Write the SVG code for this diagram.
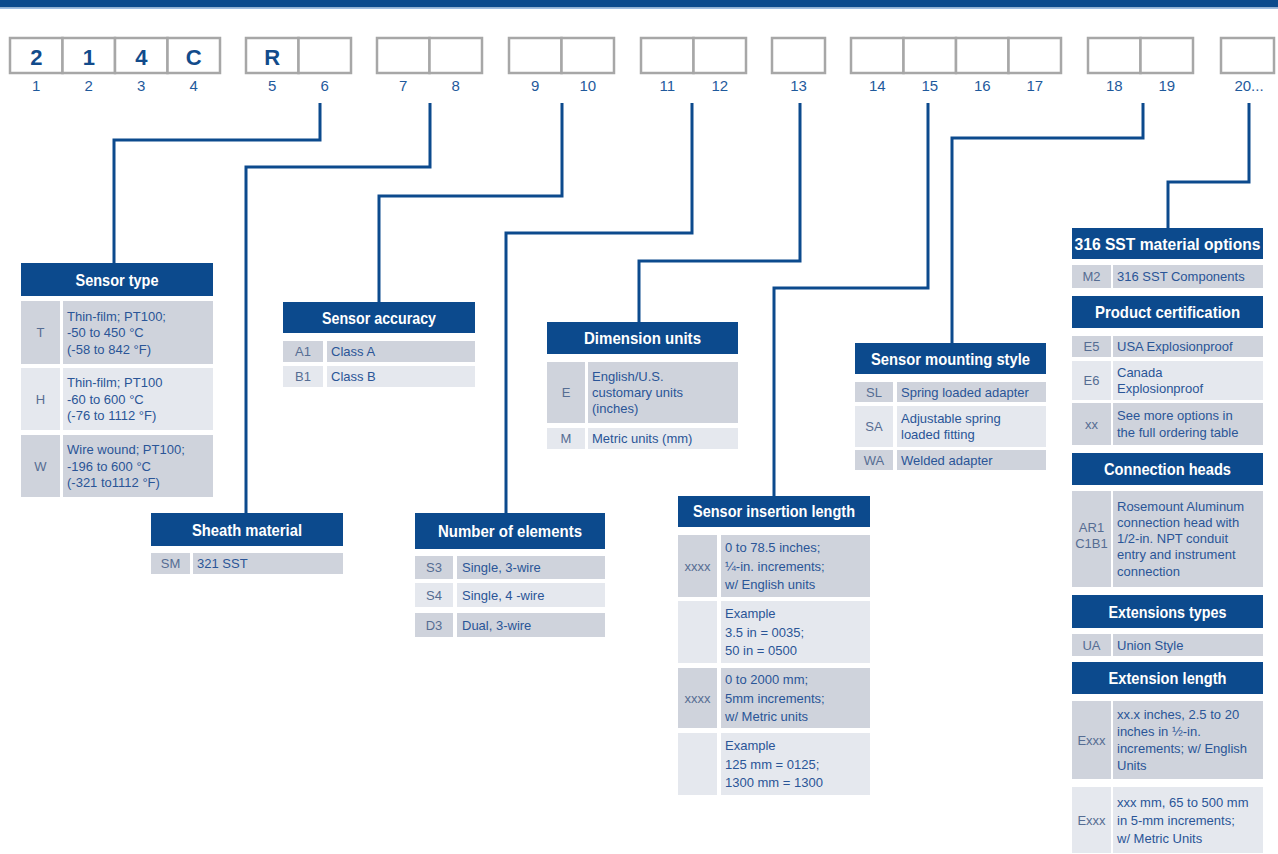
<svg xmlns="http://www.w3.org/2000/svg" width="1278" height="854" viewBox="0 0 1278 854">
<style>
.hd{fill:#0c4a8d}
.ht{font-family:"Liberation Sans",Arial,sans-serif;font-weight:bold;font-size:17px;fill:#fff;text-anchor:middle}
.rd{fill:#cfd3dc}
.rl{fill:#e5e8ee}
.cd{font-family:"Liberation Sans",Arial,sans-serif;font-size:13px;fill:#566d93;text-anchor:middle}
.tx{font-family:"Liberation Sans",Arial,sans-serif;font-size:13px;fill:#2a5597}
.cn{fill:none;stroke:#0c4a8d;stroke-width:3;stroke-linejoin:miter}
.bx{fill:#fff;stroke:#a7a7a7;stroke-width:2.5}
.bn{font-family:"Liberation Sans",Arial,sans-serif;font-weight:bold;font-size:22px;fill:#124b8b;text-anchor:middle}
.lb{font-family:"Liberation Sans Narrow","Liberation Sans",Arial,sans-serif;font-size:15px;fill:#1f5a9c;text-anchor:middle}
</style>
<rect x="0" y="0" width="1278" height="854" fill="#fff"/>
<rect x="0" y="0" width="1278" height="7.5" fill="#0b4a8c"/>
<rect x="0" y="7.5" width="1278" height="1.5" fill="#9fbde0"/>

<g id="code-boxes">
<rect class="bx" x="10" y="38" width="52.5" height="35"/>
<rect class="bx" x="62.5" y="38" width="52.5" height="35"/>
<rect class="bx" x="115" y="38" width="52.5" height="35"/>
<rect class="bx" x="167.5" y="38" width="52.5" height="35"/>
<rect class="bx" x="246" y="38" width="52.5" height="35"/>
<rect class="bx" x="298.5" y="38" width="52.5" height="35"/>
<rect class="bx" x="377" y="38" width="52.5" height="35"/>
<rect class="bx" x="429.5" y="38" width="52.5" height="35"/>
<rect class="bx" x="509" y="38" width="52.5" height="35"/>
<rect class="bx" x="561.5" y="38" width="52.5" height="35"/>
<rect class="bx" x="641" y="38" width="52.5" height="35"/>
<rect class="bx" x="693.5" y="38" width="52.5" height="35"/>
<rect class="bx" x="772" y="38" width="53" height="35"/>
<rect class="bx" x="851" y="38" width="52.5" height="35"/>
<rect class="bx" x="903.5" y="38" width="52.5" height="35"/>
<rect class="bx" x="956" y="38" width="52.5" height="35"/>
<rect class="bx" x="1008.5" y="38" width="52.5" height="35"/>
<rect class="bx" x="1088" y="38" width="52.5" height="35"/>
<rect class="bx" x="1140.5" y="38" width="52.5" height="35"/>
<rect class="bx" x="1221" y="38" width="53" height="35"/>
<text class="bn" x="36.25" y="64.5">2</text>
<text class="bn" x="88.75" y="64.5">1</text>
<text class="bn" x="141.25" y="64.5">4</text>
<text class="bn" x="193.75" y="64.5">C</text>
<text class="bn" x="272.25" y="64.5">R</text>
<text class="lb" x="36.25" y="91">1</text>
<text class="lb" x="88.75" y="91">2</text>
<text class="lb" x="141.25" y="91">3</text>
<text class="lb" x="193.75" y="91">4</text>
<text class="lb" x="272.25" y="91">5</text>
<text class="lb" x="324.75" y="91">6</text>
<text class="lb" x="403.25" y="91">7</text>
<text class="lb" x="455.75" y="91">8</text>
<text class="lb" x="535.25" y="91">9</text>
<text class="lb" x="587.75" y="91">10</text>
<text class="lb" x="667.25" y="91">11</text>
<text class="lb" x="719.75" y="91">12</text>
<text class="lb" x="798.5" y="91">13</text>
<text class="lb" x="877.25" y="91">14</text>
<text class="lb" x="929.75" y="91">15</text>
<text class="lb" x="982.25" y="91">16</text>
<text class="lb" x="1034.75" y="91">17</text>
<text class="lb" x="1114.25" y="91">18</text>
<text class="lb" x="1166.75" y="91">19</text>
<text class="lb" x="1249" y="91">20...</text>
</g>

<g id="connectors">
<path class="cn" d="M320,103 V140 H114 V263"/>
<path class="cn" d="M430,103 V167 H246 V513"/>
<path class="cn" d="M562,103 V196 H379 V302"/>
<path class="cn" d="M692,103 V233 H506 V513"/>
<path class="cn" d="M800,103 V261 H639 V322"/>
<path class="cn" d="M928,103 V288 H774 V496"/>
<path class="cn" d="M1143,103 V138 H952 V343"/>
<path class="cn" d="M1249,103 V182 H1168 V228"/>
</g>

<g id="sensor-type">
<rect class="hd" x="21" y="263" width="192" height="33"/>
<text class="ht" x="117" y="285.5" textLength="83" lengthAdjust="spacingAndGlyphs">Sensor type</text>
<rect class="rd" x="21" y="301" width="39" height="63"/><rect class="rd" x="63" y="301" width="150" height="63"/>
<text class="cd" x="40.5" y="337">T</text>
<text class="tx" x="67" y="320.5">Thin-film; PT100;<tspan x="67" dy="16.5">-50 to 450 °C</tspan><tspan x="67" dy="16.5">(-58 to 842 °F)</tspan></text>
<rect class="rl" x="21" y="368" width="39" height="62"/><rect class="rl" x="63" y="368" width="150" height="62"/>
<text class="cd" x="40.5" y="403.5">H</text>
<text class="tx" x="67" y="387">Thin-film; PT100<tspan x="67" dy="16.5">-60 to 600 °C</tspan><tspan x="67" dy="16.5">(-76 to 1112 °F)</tspan></text>
<rect class="rd" x="21" y="435" width="39" height="62"/><rect class="rd" x="63" y="435" width="150" height="62"/>
<text class="cd" x="40.5" y="470.5">W</text>
<text class="tx" x="67" y="454">Wire wound; PT100;<tspan x="67" dy="16.5">-196 to 600 °C</tspan><tspan x="67" dy="16.5">(-321 to1112 °F)</tspan></text>
</g>

<g id="sheath-material">
<rect class="hd" x="151" y="513" width="192" height="33"/>
<text class="ht" x="247" y="535.5" textLength="110" lengthAdjust="spacingAndGlyphs">Sheath material</text>
<rect class="rd" x="151" y="553" width="39" height="21"/><rect class="rd" x="193" y="553" width="150" height="21"/>
<text class="cd" x="170.5" y="568">SM</text>
<text class="tx" x="197" y="568">321 SST</text>
</g>

<g id="sensor-accuracy">
<rect class="hd" x="283" y="302" width="192" height="31"/>
<text class="ht" x="379" y="323.5" textLength="114" lengthAdjust="spacingAndGlyphs">Sensor accuracy</text>
<rect class="rd" x="283" y="341" width="40" height="21"/><rect class="rd" x="327" y="341" width="148" height="21"/>
<text class="cd" x="303" y="356">A1</text>
<text class="tx" x="331" y="356">Class A</text>
<rect class="rl" x="283" y="366" width="40" height="21"/><rect class="rl" x="327" y="366" width="148" height="21"/>
<text class="cd" x="303" y="381">B1</text>
<text class="tx" x="331" y="381">Class B</text>
</g>

<g id="dimension-units">
<rect class="hd" x="547" y="322" width="191" height="32"/>
<text class="ht" x="642.5" y="344" textLength="117" lengthAdjust="spacingAndGlyphs">Dimension units</text>
<rect class="rd" x="547" y="362" width="38" height="61"/><rect class="rd" x="588" y="362" width="150" height="61"/>
<text class="cd" x="566" y="397">E</text>
<text class="tx" x="592" y="381">English/U.S.<tspan x="592" dy="16">customary units</tspan><tspan x="592" dy="16">(inches)</tspan></text>
<rect class="rl" x="547" y="428" width="38" height="21"/><rect class="rl" x="588" y="428" width="150" height="21"/>
<text class="cd" x="566" y="443">M</text>
<text class="tx" x="592" y="443">Metric units (mm)</text>
</g>

<g id="number-of-elements">
<rect class="hd" x="415" y="513" width="190" height="36"/>
<text class="ht" x="510" y="537" textLength="144" lengthAdjust="spacingAndGlyphs">Number of elements</text>
<rect class="rd" x="415" y="556" width="38" height="23"/><rect class="rd" x="457" y="556" width="148" height="23"/>
<text class="cd" x="434" y="572">S3</text>
<text class="tx" x="462" y="572">Single, 3-wire</text>
<rect class="rl" x="415" y="583" width="38" height="24"/><rect class="rl" x="457" y="583" width="148" height="24"/>
<text class="cd" x="434" y="599.5">S4</text>
<text class="tx" x="462" y="599.5">Single, 4 -wire</text>
<rect class="rd" x="415" y="613" width="38" height="24"/><rect class="rd" x="457" y="613" width="148" height="24"/>
<text class="cd" x="434" y="629.5">D3</text>
<text class="tx" x="462" y="629.5">Dual, 3-wire</text>
</g>

<g id="sensor-insertion-length">
<rect class="hd" x="678" y="496" width="192" height="31"/>
<text class="ht" x="774" y="517" textLength="162" lengthAdjust="spacingAndGlyphs">Sensor insertion length</text>
<rect class="rd" x="678" y="535" width="39" height="62"/><rect class="rd" x="721" y="535" width="149" height="62"/>
<text class="cd" x="697.5" y="570.5">xxxx</text>
<text class="tx" x="725" y="552">0 to 78.5 inches;<tspan x="725" dy="18.5">¼-in. increments;</tspan><tspan x="725" dy="18.5">w/ English units</tspan></text>
<rect class="rl" x="678" y="601" width="39" height="62"/><rect class="rl" x="721" y="601" width="149" height="62"/>
<text class="tx" x="725" y="618">Example<tspan x="725" dy="18.5">3.5 in = 0035;</tspan><tspan x="725" dy="18.5">50 in = 0500</tspan></text>
<rect class="rd" x="678" y="668" width="39" height="60"/><rect class="rd" x="721" y="668" width="149" height="60"/>
<text class="cd" x="697.5" y="702.5">xxxx</text>
<text class="tx" x="725" y="684">0 to 2000 mm;<tspan x="725" dy="18.5">5mm increments;</tspan><tspan x="725" dy="18.5">w/ Metric units</tspan></text>
<rect class="rl" x="678" y="733" width="39" height="62"/><rect class="rl" x="721" y="733" width="149" height="62"/>
<text class="tx" x="725" y="750">Example<tspan x="725" dy="18.5">125 mm = 0125;</tspan><tspan x="725" dy="18.5">1300 mm = 1300</tspan></text>
</g>

<g id="sensor-mounting-style">
<rect class="hd" x="855" y="343" width="191" height="31"/>
<text class="ht" x="950.5" y="364.5" textLength="159" lengthAdjust="spacingAndGlyphs">Sensor mounting style</text>
<rect class="rd" x="855" y="382" width="38" height="20"/><rect class="rd" x="897" y="382" width="149" height="20"/>
<text class="cd" x="874" y="396.5">SL</text>
<text class="tx" x="901" y="396.5">Spring loaded adapter</text>
<rect class="rl" x="855" y="406" width="38" height="41"/><rect class="rl" x="897" y="406" width="149" height="41"/>
<text class="cd" x="874" y="431">SA</text>
<text class="tx" x="901" y="422.5">Adjustable spring<tspan x="901" dy="16.5">loaded fitting</tspan></text>
<rect class="rd" x="855" y="450" width="38" height="20"/><rect class="rd" x="897" y="450" width="149" height="20"/>
<text class="cd" x="874" y="464.5">WA</text>
<text class="tx" x="901" y="464.5">Welded adapter</text>
</g>

<g id="material-options">
<rect class="hd" x="1072" y="228" width="191" height="31"/>
<text class="ht" x="1167.5" y="249.5" textLength="186" lengthAdjust="spacingAndGlyphs">316 SST material options</text>
<rect class="rd" x="1072" y="265" width="39" height="23"/><rect class="rd" x="1113" y="265" width="150" height="23"/>
<text class="cd" x="1091.5" y="281">M2</text>
<text class="tx" x="1117" y="281">316 SST Components</text>
</g>

<g id="product-certification">
<rect class="hd" x="1072" y="296" width="191" height="32"/>
<text class="ht" x="1167.5" y="318" textLength="145" lengthAdjust="spacingAndGlyphs">Product certification</text>
<rect class="rd" x="1072" y="336" width="39" height="21"/><rect class="rd" x="1113" y="336" width="150" height="21"/>
<text class="cd" x="1091.5" y="351">E5</text>
<text class="tx" x="1117" y="351">USA Explosionproof</text>
<rect class="rl" x="1072" y="361" width="39" height="39"/><rect class="rl" x="1113" y="361" width="150" height="39"/>
<text class="cd" x="1091.5" y="385">E6</text>
<text class="tx" x="1117" y="376.5">Canada<tspan x="1117" dy="16.5">Explosionproof</tspan></text>
<rect class="rd" x="1072" y="403" width="39" height="42"/><rect class="rd" x="1113" y="403" width="150" height="42"/>
<text class="cd" x="1091.5" y="428.5">xx</text>
<text class="tx" x="1117" y="420">See more options in<tspan x="1117" dy="16.5">the full ordering table</tspan></text>
</g>

<g id="connection-heads">
<rect class="hd" x="1072" y="453" width="191" height="32"/>
<text class="ht" x="1167.5" y="475" textLength="127" lengthAdjust="spacingAndGlyphs">Connection heads</text>
<rect class="rd" x="1072" y="491" width="39" height="96"/><rect class="rd" x="1113" y="491" width="150" height="96"/>
<text class="cd" x="1091.5" y="531.5">AR1<tspan x="1091.5" dy="16.5">C1B1</tspan></text>
<text class="tx" x="1117" y="510.5">Rosemount Aluminum<tspan x="1117" dy="16.3">connection head with</tspan><tspan x="1117" dy="16.3">1/2-in. NPT conduit</tspan><tspan x="1117" dy="16.3">entry and instrument</tspan><tspan x="1117" dy="16.3">connection</tspan></text>
</g>

<g id="extensions-types">
<rect class="hd" x="1072" y="595" width="191" height="33"/>
<text class="ht" x="1167.5" y="617.5" textLength="118" lengthAdjust="spacingAndGlyphs">Extensions types</text>
<rect class="rd" x="1072" y="634" width="39" height="22"/><rect class="rd" x="1113" y="634" width="150" height="22"/>
<text class="cd" x="1091.5" y="649.5">UA</text>
<text class="tx" x="1117" y="649.5">Union Style</text>
</g>

<g id="extension-length">
<rect class="hd" x="1072" y="662" width="191" height="32"/>
<text class="ht" x="1167.5" y="684" textLength="118" lengthAdjust="spacingAndGlyphs">Extension length</text>
<rect class="rd" x="1072" y="701" width="39" height="78"/><rect class="rd" x="1113" y="701" width="150" height="78"/>
<text class="cd" x="1091.5" y="744.5">Exxx</text>
<text class="tx" x="1117" y="719">xx.x inches, 2.5 to 20<tspan x="1117" dy="17">inches in ½-in.</tspan><tspan x="1117" dy="17">increments; w/ English</tspan><tspan x="1117" dy="17">Units</tspan></text>
<rect class="rl" x="1072" y="787" width="39" height="66"/><rect class="rl" x="1113" y="787" width="150" height="66"/>
<text class="cd" x="1091.5" y="824.5">Exxx</text>
<text class="tx" x="1117" y="806.5">xxx mm, 65 to 500 mm<tspan x="1117" dy="18">in 5-mm increments;</tspan><tspan x="1117" dy="18">w/ Metric Units</tspan></text>
</g>
</svg>
